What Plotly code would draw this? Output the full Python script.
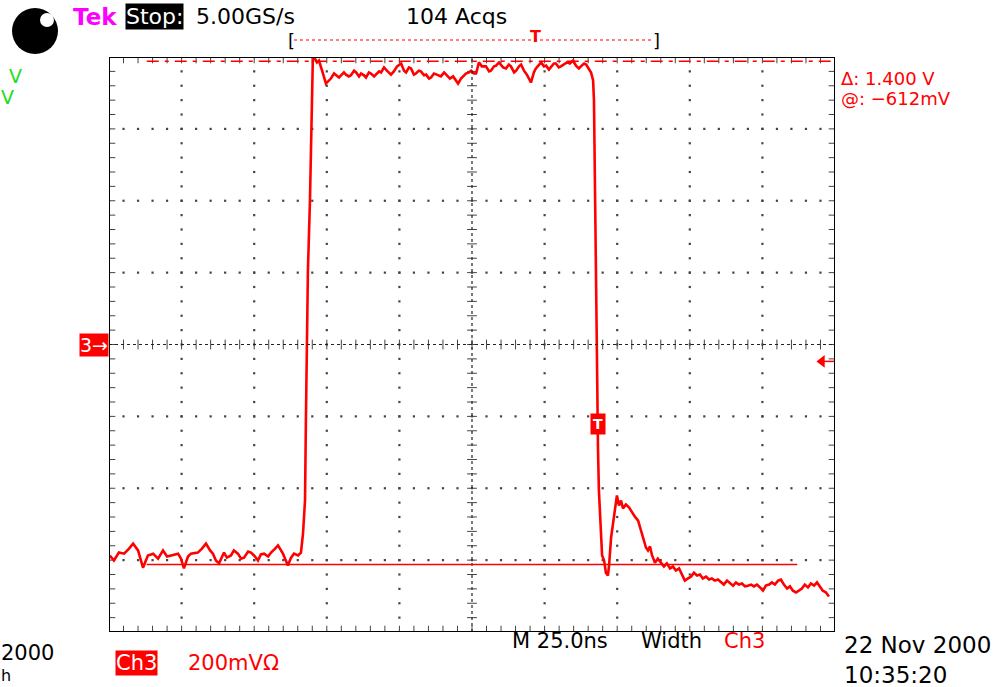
import numpy as np
import plotly.graph_objects as go

# ---- Channel 3 acquisition (time in ns relative to screen centre, amplitude in mV) ----
time_ns = [
    -124.7, -123.3, -121.6, -119.8, -118.1, -116.7, -115.0, -113.3, -111.6, -109.8,
    -108.1, -106.4, -105.0, -103.7, -101.2, -100.2, -99.2, -97.8, -96.8, -94.4,
    -93.0, -91.6, -90.2, -89.2, -88.2, -87.1, -85.4, -84.4, -83.0, -82.0,
    -80.6, -79.5, -78.5, -77.1, -76.1, -74.7, -73.7, -72.7, -71.6, -70.2,
    -69.2, -67.8, -66.8, -65.1, -63.4, -62.3, -61.3, -59.9, -58.9, -58.2,
    -57.5, -57.2, -56.8, -56.5, -55.8, -55.4, -55.1, -54.8,
    -54.1, -53.4, -52.7, -52.0, -51.3, -50.3, -49.2, -48.6, -47.5, -46.8,
    -45.8, -45.1, -44.1, -43.4, -42.4, -41.7, -40.6, -39.9, -38.9, -38.2,
    -37.2, -36.5, -35.5, -34.8, -33.7, -33.1, -32.0, -31.3, -30.3, -29.3,
    -27.9, -26.9, -25.8, -24.4, -23.4, -22.7, -21.7, -21.0, -20.0, -19.3,
    -18.3, -17.6, -16.5, -15.8, -14.8, -14.1, -13.1, -12.1, -10.7, -9.6,
    -8.6, -7.6, -6.5, -5.5, -4.8, -3.8, -2.8, -2.1, -1.0, -0.3,
    0.7, 1.4, 2.4, 3.4, 4.8, 5.9, 6.5, 7.6, 8.3, 9.3,
    10.7, 11.7, 12.7, 13.4, 14.5, 15.2, 16.2, 16.9, 17.9, 18.9,
    20.3, 21.3, 22.0, 23.1, 23.8, 24.8, 25.5, 26.5, 27.2, 28.2,
    28.9, 29.9, 30.6, 31.7, 32.7, 33.7, 34.8, 35.8, 36.8, 37.5,
    38.6, 39.3, 40.3, 41.0, 41.7, 42.0, 42.4, 42.7, 43.0, 43.4,
    43.7, 44.4, 44.8, 45.5, 46.1, 46.8, 47.2, 47.9, 48.2, 48.9,
    49.2, 49.9, 50.6, 51.3, 52.0, 53.0, 54.1, 55.1, 56.1, 57.2,
    58.2, 59.2, 59.9, 60.6, 61.3, 62.0, 63.0, 64.0, 65.1, 66.1,
    67.1, 68.2, 69.2, 70.2, 71.3, 72.3, 73.3, 74.4, 75.4, 76.4,
    77.5, 78.5, 79.5, 80.6, 81.6, 82.6, 83.6, 84.7, 85.7, 86.7,
    87.8, 88.8, 89.9, 90.9, 91.9, 93.0, 94.0, 95.0, 96.1, 97.1,
    98.1, 99.2, 100.2, 101.2, 102.3, 103.3, 104.3, 105.4, 106.4, 107.4,
    108.5, 109.5, 110.5, 111.6, 112.6, 113.6, 114.6, 115.7, 116.7, 117.8,
    118.8, 119.8, 120.8, 121.9, 122.9,
]
ch3_mv = [
    -587, -601, -579, -582, -568, -554, -573, -621, -587, -582,
    -596, -573, -590, -587, -582, -596, -623, -590, -582, -579,
    -568, -554, -573, -582, -601, -609, -579, -593, -587, -573,
    -582, -596, -593, -576, -579, -590, -601, -584, -582, -590,
    -579, -568, -559, -582, -615, -593, -582, -587, -579, -526,
    -434, -212, 0, 206, 401, 601, 763, 799,
    796, 785, 790, 768, 754, 726, 735, 740, 754, 749,
    743, 749, 757, 751, 746, 749, 762, 757, 746, 754,
    749, 743, 757, 754, 746, 751, 760, 757, 771, 762,
    751, 760, 774, 782, 762, 757, 771, 768, 751, 754,
    762, 760, 749, 751, 740, 743, 754, 751, 746, 757,
    749, 740, 746, 735, 726, 740, 749, 754, 757, 762,
    754, 754, 785, 774, 774, 760, 762, 774, 776, 785,
    771, 768, 779, 774, 757, 762, 774, 779, 762, 751,
    729, 757, 768, 779, 785, 774, 776, 765, 771, 782,
    782, 771, 774, 779, 785, 782, 790, 776, 768, 774,
    782, 779, 768, 757, 735, 679, 401, 122, -100, -295,
    -406, -518, -587, -601, -635, -643, -615, -537, -518, -481,
    -448, -420, -448, -434, -456, -445, -454, -468, -479, -490,
    -518, -546, -565, -573, -562, -587, -607, -596, -607, -618,
    -609, -623, -618, -629, -623, -640, -657, -651, -646, -635,
    -643, -640, -651, -646, -654, -651, -657, -654, -660, -668,
    -657, -665, -671, -662, -668, -665, -673, -671, -668, -673,
    -668, -676, -685, -671, -668, -662, -668, -657, -654, -668,
    -679, -673, -685, -690, -685, -679, -668, -676, -665, -671,
    -662, -673, -685, -690, -701,
]

# ---- Scope settings ----
time_per_div_ns = 25.0
volts_per_div_mv = 200.0
h_divs, v_divs = 10, 8
cursor_low_mv = -612
cursor_delta_mv = 1400
cursor_high_mv = cursor_low_mv + cursor_delta_mv
trigger_level_mv = -47
trigger_time_ns = 43.4
trigger_mark_mv = -220

t_half = time_per_div_ns * h_divs / 2
v_half = volts_per_div_mv * v_divs / 2

W, H = 995, 687
L, R, T, B = 109, 835, 57, 632
RED = "#ff0000"
FONT = "DejaVu Sans"


def px(x):
    return (x - L) / (R - L)


def py(y):
    return (B - y) / (B - T)


fig = go.Figure()

# ---- Graticule dots ----
minor_t = np.arange(-t_half, t_half + 0.01, time_per_div_ns / 5)
minor_v = np.arange(-v_half, v_half + 0.01, volts_per_div_mv / 5)
major_t = [k * time_per_div_ns for k in range(-4, 5) if k != 0]
major_v = [k * volts_per_div_mv for k in range(-3, 4) if k != 0]

gx, gy = [], []
for t in major_t:
    for v in minor_v:
        gx.append(t)
        gy.append(v)
for v in major_v:
    for t in minor_t:
        gx.append(t)
        gy.append(v)
fig.add_trace(go.Scatter(x=gx, y=gy, mode="markers", hoverinfo="skip",
                         marker=dict(symbol="square", size=2.2, color="#444444")))

# centre cross: dense dots with small ticks
fig.add_shape(type="line", x0=-t_half, x1=t_half, y0=0, y1=0,
              line=dict(color="#222222", width=1.2, dash="dot"))
fig.add_shape(type="line", x0=0, x1=0, y0=-v_half, y1=v_half,
              line=dict(color="#222222", width=1.2, dash="dot"))
fig.add_trace(go.Scatter(x=list(minor_t), y=[0] * len(minor_t), mode="markers",
                         hoverinfo="skip",
                         marker=dict(symbol="line-ns", size=7,
                                     line=dict(color="#444444", width=1))))
fig.add_trace(go.Scatter(x=[0] * len(minor_v), y=list(minor_v), mode="markers",
                         hoverinfo="skip",
                         marker=dict(symbol="line-ew", size=7,
                                     line=dict(color="#444444", width=1))))

# frame edge ticks
ex = list(minor_t) * 2
ey = [-v_half] * len(minor_t) + [v_half] * len(minor_t)
fig.add_trace(go.Scatter(x=ex, y=ey, mode="markers", hoverinfo="skip",
                         marker=dict(symbol="line-ns", size=9,
                                     line=dict(color="#444444", width=1))))
fx = [-t_half] * len(minor_v) + [t_half] * len(minor_v)
fy = list(minor_v) * 2
fig.add_trace(go.Scatter(x=fx, y=fy, mode="markers", hoverinfo="skip",
                         marker=dict(symbol="line-ew", size=9,
                                     line=dict(color="#444444", width=1))))

# ---- Cursors ----
cur_t0, cur_t1 = -112, 112
fig.add_shape(type="line", x0=cur_t0, x1=t_half, y0=cursor_high_mv, y1=cursor_high_mv,
              line=dict(color=RED, width=1.5, dash="12px,6px,4px,6px"))
fig.add_shape(type="line", x0=cur_t0, x1=cur_t1, y0=cursor_low_mv, y1=cursor_low_mv,
              line=dict(color=RED, width=1.5))

# ---- Waveform ----
fig.add_trace(go.Scatter(x=time_ns, y=ch3_mv, mode="lines", hoverinfo="skip",
                         line=dict(color=RED, width=2.6)))

# trigger level arrow
fig.add_shape(type="line", x0=121, x1=t_half, y0=trigger_level_mv, y1=trigger_level_mv,
              line=dict(color=RED, width=1.5))
fig.add_trace(go.Scatter(x=[120.5], y=[trigger_level_mv], mode="markers", hoverinfo="skip",
                         cliponaxis=False,
                         marker=dict(symbol="triangle-left", size=11, color=RED)))

# trigger point marker on the trace
fig.add_annotation(x=trigger_time_ns, y=trigger_mark_mv, xref="x", yref="y",
                   text="<b>T</b>", showarrow=False, bgcolor=RED, borderpad=2,
                   font=dict(family=FONT, size=14, color="white"))

# frame
fig.add_shape(type="rect", x0=-t_half, x1=t_half, y0=-v_half, y1=v_half,
              line=dict(color="black", width=2))


# ---- Screen text ----
def label(x, y, text, size=20, color="black", bg=None, anchor="left", bold=False):
    fig.add_annotation(x=px(x), y=py(y), xref="paper", yref="paper",
                       text=f"<b>{text}</b>" if bold else text, showarrow=False,
                       xanchor=anchor, yanchor="middle",
                       bgcolor=bg if bg else "rgba(0,0,0,0)", borderpad=0,
                       font=dict(family=FONT, size=size, color=color))


label(72, 17, "Tek", size=23, color="#ff00ff", bold=True)
label(125, 17, "Stop:", size=22, color="white", bg="black")
label(195, 17, "5.00GS/s", size=22)
label(405, 17, "104 Acqs", size=22)
label(8, 76, "V", size=19, color="#22dd22")
label(0, 97, "V", size=19, color="#22dd22")
label(840, 78, "Δ: 1.400 V", size=18, color=RED)
label(840, 99, "@: −612mV", size=18, color=RED)
label(79, 345, "3→", size=19, color="white", bg=RED)
label(0, 653, "2000", size=21)
label(0, 675, "h", size=16)
label(115, 663, "Ch3", size=21, color="white", bg=RED)
label(187, 663, "200mVΩ", size=21, color=RED)
label(511, 641, "M 25.0ns", size=21)
label(640, 641, "Width", size=21)
label(723, 641, "Ch3", size=21, color=RED)
label(843, 645, "22 Nov 2000", size=23)
label(843, 675, "10:35:20", size=23)

# record-length bar
label(287, 40, "[", size=18)
label(652, 40, "]", size=18)
fig.add_shape(type="line", xref="paper", yref="paper", x0=px(294), x1=px(652),
              y0=py(40), y1=py(40), line=dict(color=RED, width=1, dash="dot"))
label(535, 37, "T", size=16, color=RED, anchor="center", bold=True)

# probe logo
fig.add_shape(type="circle", xref="paper", yref="paper", xsizemode="pixel", ysizemode="pixel",
              xanchor=px(35), yanchor=py(31), x0=-23, x1=23, y0=-23, y1=23,
              fillcolor="black", line=dict(color="black", width=0))
fig.add_shape(type="circle", xref="paper", yref="paper", xsizemode="pixel", ysizemode="pixel",
              xanchor=px(35), yanchor=py(31), x0=5, x1=19, y0=4, y1=18,
              fillcolor="white", line=dict(color="white", width=0))

fig.update_layout(
    width=W, height=H,
    margin=dict(l=L, r=W - R, t=T, b=H - B),
    paper_bgcolor="white", plot_bgcolor="white",
    showlegend=False,
    xaxis=dict(range=[-t_half, t_half], showgrid=False, zeroline=False,
               showticklabels=False, ticks="", fixedrange=True),
    yaxis=dict(range=[-v_half, v_half], showgrid=False, zeroline=False,
               showticklabels=False, ticks="", fixedrange=True),
)

fig.write_html("out.html")
